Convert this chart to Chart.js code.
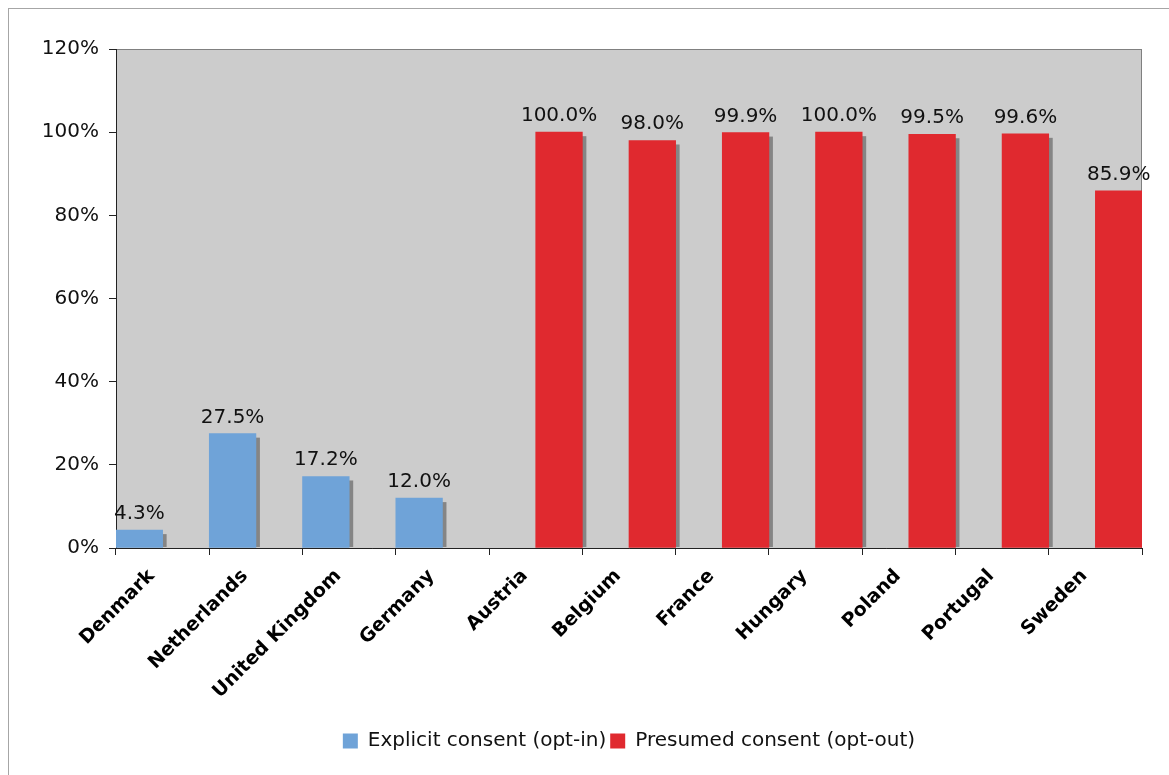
<!DOCTYPE html>
<html>
<head>
<meta charset="utf-8">
<script src="https://cdn.jsdelivr.net/npm/chart.js@4"></script>
<style>
  html, body { margin: 0; padding: 0; background: #fff; overflow: hidden; }
  #wrap {
    position: absolute; left: 8px; top: 8px;
    width: 1180px; height: 800px;
    border: 1px solid #a6a6a6;
  }
  canvas { display: block; }
</style>
</head>
<body>
<div id="wrap"><canvas id="chart" width="1160" height="766"></canvas></div>
<script>
// categories and values (percent)
const countries = ['Denmark', 'Netherlands', 'United Kingdom', 'Germany', 'Austria',
    'Belgium', 'France', 'Hungary', 'Poland', 'Portugal', 'Sweden'];
const optIn = [4.3, 27.5, 17.2, 12.0, null, null, null, null, null, null, null];
const optOut = [null, null, null, null, 100.0, 98.0, 99.9, 100.0, 99.5, 99.6, 85.9];
const yTicks = [0, 20, 40, 60, 80, 100, 120];

const FONT = '"DejaVu Sans", Verdana, sans-serif';

// gray plot area with thin frame
const plotBg = {
    id: 'plotBg',
    beforeDraw(chart) {
        const { ctx, chartArea: a } = chart;
        ctx.save();
        ctx.fillStyle = '#cccccc';
        ctx.fillRect(a.left, a.top, a.right - a.left, a.bottom - a.top);
        ctx.strokeStyle = '#808080';
        ctx.lineWidth = 1;
        ctx.strokeRect(a.left + 0.5, a.top + 0.5, a.right - a.left - 1, a.bottom - a.top);
        ctx.restore();
    },
};

// drop shadow behind each bar
const barShadow = {
    id: 'barShadow',
    beforeDatasetsDraw(chart) {
        const { ctx, chartArea: a } = chart;
        ctx.save();
        ctx.beginPath();
        ctx.rect(a.left, a.top, a.right - a.left, a.bottom - a.top - 1);
        ctx.clip();
        ctx.fillStyle = '#858585';
        chart.data.datasets.forEach((ds, i) => {
            chart.getDatasetMeta(i).data.forEach((bar, j) => {
                if (ds.data[j] == null) return;
                const p = bar.getProps(['x', 'y', 'base', 'width'], true);
                ctx.fillRect(p.x - p.width / 2 + 4, p.y + 4, p.width, p.base - p.y);
            });
        });
        ctx.restore();
    },
};

// value labels above bars
const valueLabels = {
    id: 'valueLabels',
    afterDatasetsDraw(chart) {
        const { ctx } = chart;
        ctx.save();
        ctx.font = '20px ' + FONT;
        ctx.fillStyle = '#111';
        ctx.textAlign = 'center';
        ctx.textBaseline = 'alphabetic';
        chart.data.datasets.forEach((ds, i) => {
            chart.getDatasetMeta(i).data.forEach((bar, j) => {
                const v = ds.data[j];
                if (v == null) return;
                ctx.fillText(v.toFixed(1) + '%', bar.x, bar.y - 11);
            });
        });
        ctx.restore();
    },
};

new Chart(document.getElementById('chart'), {
    type: 'bar',
    data: {
        labels: countries,
        datasets: [
            {
                label: 'Explicit consent (opt-in)',
                data: optIn,
                backgroundColor: '#6fa3d8',
                categoryPercentage: 1,
                barPercentage: 1,
            },
            {
                label: 'Presumed consent (opt-out)',
                data: optOut,
                backgroundColor: '#e0292f',
                categoryPercentage: 1,
                barPercentage: 1,
            },
        ],
    },
    options: {
        responsive: false,
        animation: false,
        layout: { padding: { top: 40, right: 27, left: 0, bottom: 14 } },
        plugins: {
            legend: {
                position: 'bottom',
                fullSize: false,
                labels: {
                    font: { family: FONT, size: 20 },
                    color: '#111',
                    boxWidth: 15,
                    boxHeight: 15,
                    padding: 4,
                },
            },
            tooltip: { enabled: false },
        },
        scales: {
            x: {
                grid: {
                    offset: true,
                    drawOnChartArea: false,
                    color: '#222',
                    tickLength: 7,
                },
                border: { color: '#222', width: 1 },
                ticks: {
                    minRotation: 45,
                    maxRotation: 45,
                    autoSkip: false,
                    padding: 10,
                    labelOffset: -11,
                    color: '#000',
                    font: { family: FONT, size: 19, weight: 'bold' },
                },
                afterFit(scale) { scale.height = 179; },
            },
            y: {
                min: 0,
                max: 120,
                afterBuildTicks(scale) { scale.ticks = yTicks.map(v => ({ value: v })); },
                grid: {
                    drawOnChartArea: false,
                    color: '#222',
                    tickLength: 7,
                },
                border: { color: '#222', width: 1 },
                ticks: {
                    color: '#111',
                    padding: 10,
                    font: { family: FONT, size: 20 },
                    callback: v => v + '%',
                },
                afterFit(scale) { scale.width = 107; },
            },
        },
    },
    plugins: [plotBg, barShadow, valueLabels],
});
</script>
</body>
</html>
